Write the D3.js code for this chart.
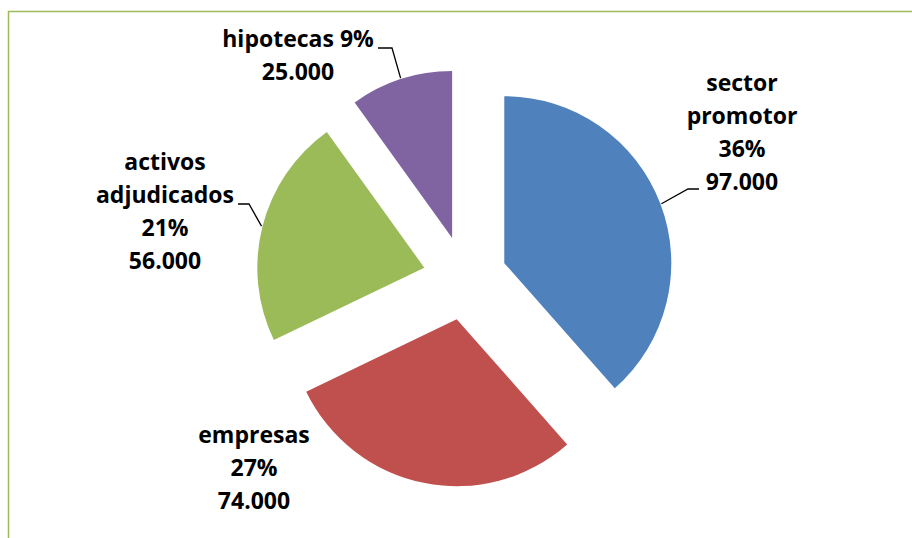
<!DOCTYPE html>
<html lang="es">
<head>
<meta charset="utf-8">
<title>Pie</title>
<script src="https://d3js.org/d3.v7.min.js"></script>
<style>
  body { margin: 0; background: #fff; }
  text { font-family: "Open Sans", sans-serif; font-weight: bold; font-size: 23px; fill: #000; }
</style>
</head>
<body>
<svg width="912" height="538"></svg>
<script>
// data
var categories = [["sector", "promotor"], ["empresas"], ["activos", "adjudicados"], ["hipotecas"]];
var values = [97000, 74000, 56000, 25000];
var percents = ["36%", "27%", "21%", "9%"];
var colors = ["#4f81bd", "#c0504d", "#9bbb59", "#8064a2"];

// label placement (as in the original, set by hand)
var labelPos = [
    {x: 742, y: 91, join: false, elbow: [[699, 189], [688, 189]]},
    {x: 254, y: 443, join: false, elbow: null},
    {x: 165, y: 170, join: false, elbow: [[238, 204], [249, 204]]},
    {x: 298, y: 47, join: true, elbow: [[378, 48], [392, 48]]}
];

var svg = d3.select("svg"),
    cx = 465, cy = 278,
    radius = 167,
    explode = 42,
    lineH = 33;

var es = d3.formatLocale({decimal: ",", thousands: ".", grouping: [3], currency: ["", "€"]});
var fmt = es.format(",d");

// chart border
svg.append("path")
    .attr("d", "M8.5,540 L8.5,11.5 L915,11.5")
    .attr("fill", "none")
    .attr("stroke", "#9bbb59")
    .attr("stroke-width", 1.5);

var pie = d3.pie().sort(null).value(function(d) { return d; });
var arcs = pie(values);
var arc = d3.arc().innerRadius(0).outerRadius(radius);

function offset(d, r) {
    var a = (d.startAngle + d.endAngle) / 2;
    return [r * Math.sin(a), -r * Math.cos(a)];
}

var g = svg.append("g").attr("transform", "translate(" + cx + "," + cy + ")");

g.selectAll(".slice")
    .data(arcs)
    .enter().append("path")
    .attr("class", "slice")
    .attr("d", arc)
    .attr("fill", function(d, i) { return colors[i]; })
    .attr("transform", function(d) {
        var o = offset(d, explode);
        return "translate(" + o[0] + "," + o[1] + ")";
    });

// leader lines
arcs.forEach(function(d, i) {
    var p = labelPos[i];
    if (!p.elbow) return;
    var o = offset(d, explode),
        e = offset(d, radius + 1);
    var pts = p.elbow.concat([[cx + o[0] + e[0], cy + o[1] + e[1]]]);
    svg.append("path")
        .attr("d", d3.line()(pts))
        .attr("fill", "none")
        .attr("stroke", "#000")
        .attr("stroke-width", 1.3);
});

// labels
arcs.forEach(function(d, i) {
    var p = labelPos[i];
    var lines = categories[i].slice();
    if (p.join) lines[lines.length - 1] += " " + percents[i];
    else lines.push(percents[i]);
    lines.push(fmt(values[i]));
    var t = svg.append("text")
        .attr("text-anchor", "middle");
    lines.forEach(function(s, k) {
        t.append("tspan")
            .attr("x", p.x)
            .attr("y", p.y + k * lineH)
            .text(s);
    });
});
</script>
</body>
</html>
